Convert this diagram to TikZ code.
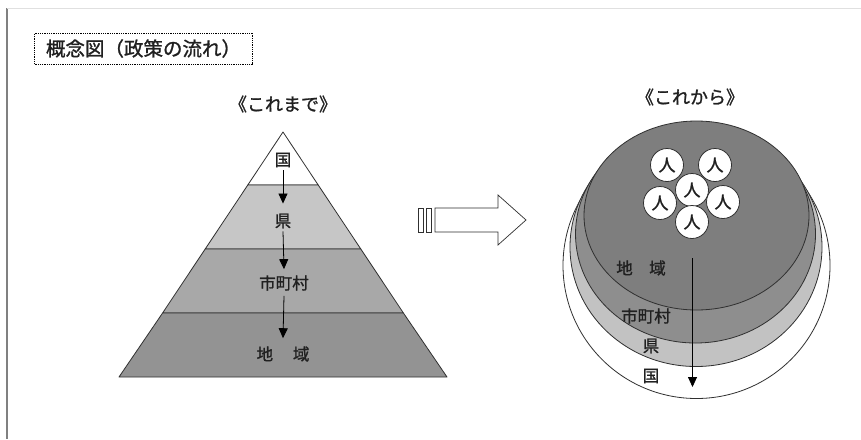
\documentclass[tikz,border=0pt]{standalone}
\usepackage{fontspec}
\setmainfont{Noto Sans CJK JP}[FakeBold=1.2]
\usetikzlibrary{arrows.meta}
\definecolor{pyrB}{HTML}{C6C6C6}
\definecolor{pyrC}{HTML}{A8A8A8}
\definecolor{pyrD}{HTML}{939393}
\definecolor{cirB}{HTML}{C2C2C2}
\definecolor{cirC}{HTML}{8E8E8E}
\definecolor{cirD}{HTML}{7E7E7E}
\definecolor{edge}{HTML}{303030}
\definecolor{ink}{HTML}{202020}
\begin{document}
\begin{tikzpicture}[x=1pt,y=-1pt,
  band/.style={draw=edge,line width=0.8pt,line join=round},
  layer/.style={draw=edge,line width=0.8pt},
  lab/.style={inner sep=0pt,text=ink,font=\fontsize{16.5pt}{17pt}\selectfont},
  headlab/.style={inner sep=0pt,text=ink,font=\fontsize{18pt}{19pt}\selectfont},
  person/.style={circle,draw=edge,fill=white,line width=0.8pt,minimum size=33pt,inner sep=0pt,text=ink,font=\fontsize{17pt}{18pt}\selectfont},
  flowarrow/.style={line width=0.8pt,-{Triangle[length=10pt,width=9pt]}},
  titlebox/.style={draw=black,densely dotted,line width=0.8pt,minimum width=218pt,minimum height=31pt,inner sep=0pt,text=ink,font=\fontsize{19.5pt}{20pt}\selectfont}
]
\useasboundingbox (0,0) rectangle (861,439);
\fill[white] (0,0) rectangle (861,439);
\draw[line width=1.2pt,draw=black!50] (7,8) -- (7,439);
\draw[line width=0.8pt,draw=black!12] (7,8) -- (861,8);

% title
\node[titlebox] (title) at (143.5,48.5) {概念図（政策の流れ）};

% headings
\node[headlab] (before) at (283,104) {《これまで》};
\node[headlab] (after) at (690,97) {《これから》};

% pyramid
\draw[band,fill=white] (283,132) -- (318.2,185) -- (247.8,185) -- cycle;
\draw[band,fill=pyrB] (247.8,185) -- (318.2,185) -- (360.8,249) -- (205.2,249) -- cycle;
\draw[band,fill=pyrC] (205.2,249) -- (360.8,249) -- (403.4,313) -- (162.6,313) -- cycle;
\draw[band,fill=pyrD] (162.6,313) -- (403.4,313) -- (447,377) -- (119,377) -- cycle;

\node[lab] (pk) at (283,160) {国};
\node[lab] (pp) at (283,221) {県};
\node[lab] (pm) at (284,283) {市町村};
\node[lab] (pc) at (283,354) {地\hspace{1.2em}域};

\draw[flowarrow] ([yshift=-3pt]pk.south) -- ([yshift=10pt]pp.north);
\draw[flowarrow] ([yshift=-3pt]pp.south) -- ([yshift=6pt]pm.north);
\draw[flowarrow] ([yshift=-5pt]pm.south) -- ([yshift=8pt]pc.north);

% big hollow arrow
\draw[line width=0.7pt,draw=edge] (418,208) rectangle (423,232);
\draw[line width=0.7pt,draw=edge] (426.5,208) rectangle (431.5,232);
\draw[line width=0.7pt,draw=edge,line join=miter] (435,208) -- (498,208) -- (498,195) -- (526,220) -- (498,245) -- (498,232) -- (435,232) -- cycle;

% nested layers
\draw[layer,fill=white] (696.5,265.5) ellipse [x radius=133.5pt, y radius=133pt];
\draw[layer,fill=cirB] (696,247) ellipse [x radius=126pt, y radius=119.5pt];
\draw[layer,fill=cirC] (695.5,234) ellipse [x radius=120pt, y radius=109pt];
\draw[layer,fill=cirD] (696.5,215.5) ellipse [x radius=112.5pt, y radius=94.5pt];

% people
\node[person] (h1) at (667,165) {人};
\node[person] (h2) at (715,165) {人};
\node[person] (h3) at (692,190) {人};
\node[person] (h4) at (660,203) {人};
\node[person] (h5) at (723,202) {人};
\node[person] (h6) at (692,222) {人};

% right labels
\node[lab] (rc) at (641,268) {地\hspace{1em}域};
\node[lab] (rm) at (646,316) {市町村};
\node[lab] (rp) at (651,346) {県};
\node[lab] (rk) at (651,376) {国};

\coordinate (rtop) at (692.5,258);
\coordinate (rbot) at (692.5,387);
\draw[flowarrow] (rtop) -- (rbot);
\end{tikzpicture}
\end{document}
